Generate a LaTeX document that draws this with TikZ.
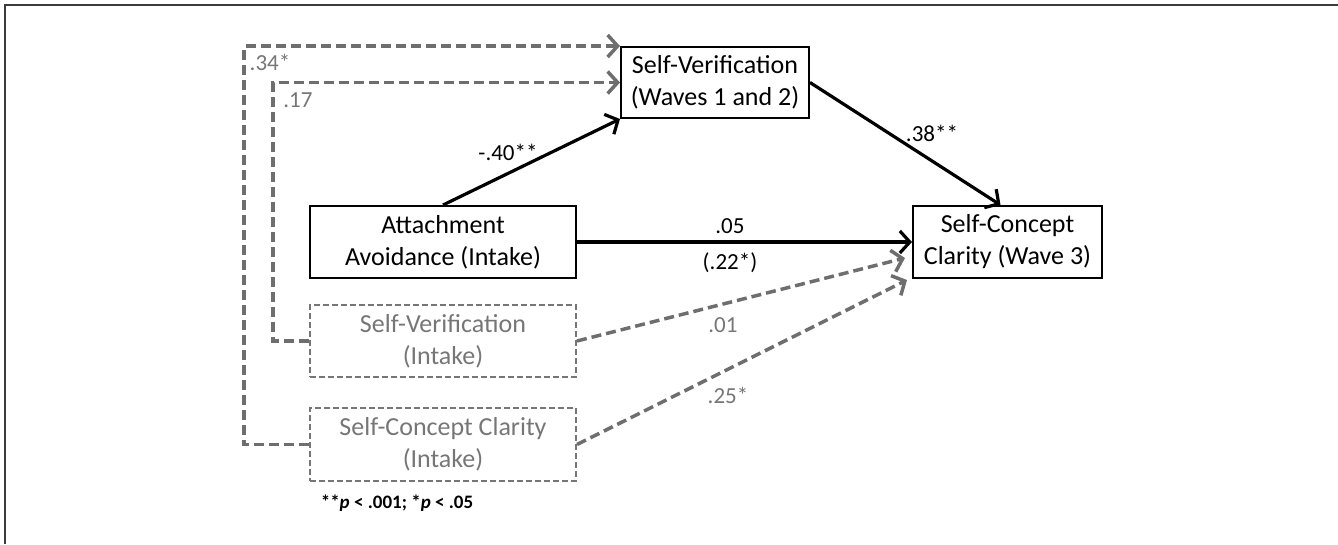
\documentclass[tikz,border=0pt]{standalone}
\usepackage{fontspec}
\setmainfont{Carlito}
\usepackage{xcolor}
\usetikzlibrary{arrows.meta,positioning,calc}
\definecolor{pathgrey}{RGB}{110,110,110}
\definecolor{boxgrey}{RGB}{118,118,118}
\definecolor{textgrey}{RGB}{118,118,118}
\definecolor{framegrey}{RGB}{60,60,60}

\begin{document}
\begin{tikzpicture}[
    x=1pt, y=-1pt, >={Straight Barb[length=10pt,width=22pt]},
    var/.style={rectangle, draw=black, line width=2pt, align=center,
               font=\fontsize{26}{32}\selectfont, inner sep=0pt},
    ctl/.style={var, draw=boxgrey, dash pattern=on 6pt off 3pt, text=textgrey},
    arr/.style={->, line width=3.2pt, black},
    darr/.style={->, line width=3.5pt, pathgrey, dash pattern=on 10pt off 5pt},
    coef/.style={font=\fontsize{23}{27}\selectfont, inner sep=0pt},
    gcoef/.style={coef, text=textgrey}
]
\useasboundingbox (0,0) rectangle (1338,544);
\draw[line width=2pt, framegrey] (5,544) -- (5,5) -- (1338,5);

\node[var, minimum width=188pt, minimum height=71pt] (sv)   at (715,82.5)   {Self-Verification\\(Waves 1 and 2)};
\node[var, minimum width=266pt, minimum height=72pt] (aa)   at (443,242)    {Attachment\\Avoidance (Intake)};
\node[var, minimum width=189pt, minimum height=72pt] (scc)  at (1007.5,242) {Self-Concept\\Clarity (Wave 3)};
\node[ctl, minimum width=266pt, minimum height=72pt] (svi)  at (443,341)    {Self-Verification\\(Intake)};
\node[ctl, minimum width=266pt, minimum height=73pt] (scci) at (443,444.5)  {Self-Concept Clarity\\(Intake)};

% control paths to the mediator
\draw[darr] (scci.west) -- ++(-65,0) |- (sv.north west);
\draw[darr] (svi.west) -- ++(-36,0) |- (sv.west);
\node[gcoef] (l34) at (270,62)  {.34*};
\node[gcoef] (l17) at (298,100) {.17};

% mediation paths
\draw[arr] (aa.north) -- (sv.south west);
\draw[arr] (sv.east) -- ([xshift=-7pt]scc.north);
\draw[arr] (aa.east) -- (scc.west);
\node[coef] (l40) at (508,152)  {-.40**};
\node[coef] (l38) at (932,133)  {.38**};
\node[coef] (l05) at (730,226)  {.05};
\node[coef] (l22) at (730,263)  {(.22*)};

% controls to the outcome
\draw[darr] (svi.east) -- ([xshift=-7pt,yshift=-16pt]scc.west);
\draw[darr] (scci.east) -- ([xshift=-5pt,yshift=-38pt]scc.west);
\node[gcoef] (l01) at (723,325) {.01};
\node[gcoef] (l25) at (728,395) {.25*};

\node[font=\fontsize{19}{23}\selectfont\bfseries, inner sep=0pt] (note) at (397,503)
    {**\textit{p} < .001; *\textit{p} < .05};
\end{tikzpicture}
\end{document}
